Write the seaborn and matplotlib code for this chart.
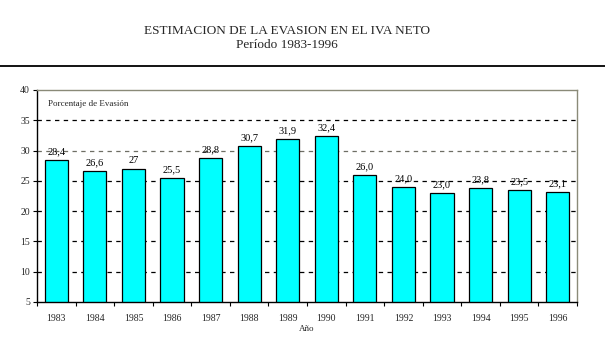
import matplotlib
matplotlib.use("Agg")
import matplotlib.pyplot as plt
from matplotlib.lines import Line2D
from matplotlib.ticker import FixedLocator, NullFormatter
import seaborn as sns
import pandas as pd

years = ["1983", "1984", "1985", "1986", "1987", "1988", "1989",
         "1990", "1991", "1992", "1993", "1994", "1995", "1996"]
evasion = [28.4, 26.6, 27.0, 25.5, 28.8, 30.7, 31.9,
           32.4, 26.0, 24.0, 23.0, 23.8, 23.5, 23.1]
value_labels = ["28,4", "26,6", "27", "25,5", "28,8", "30,7", "31,9",
                "32,4", "26,0", "24,0", "23,0", "23,8", "23,5", "23,1"]
y_ticks = [5, 10, 15, 20, 25, 30, 35, 40]

sns.set_theme(style="white")
plt.rcParams["font.family"] = ["Liberation Serif", "DejaVu Serif"]

df = pd.DataFrame({"Año": years, "Evasion": evasion})

fig = plt.figure(figsize=(6.05, 3.37), dpi=100)
ax = fig.add_axes([0.0612, 0.104, 0.8925, 0.629])

ax.set_ylim(5, 40)
for t in y_ticks[1:-1]:
    col = "#6e6e64" if t == 30 else "black"
    ax.axhline(t, color=col, lw=0.9, ls=(0, (3.5, 3.5)), zorder=0)

sns.barplot(data=df, x="Año", y="Evasion", color="#00FFFF", saturation=1,
            width=0.6, edgecolor="black", linewidth=0.9, ax=ax, zorder=2)

ax.set_xlim(-0.5, len(years) - 0.5)
for i, (v, lab) in enumerate(zip(evasion, value_labels)):
    ax.text(i, v + 0.6, lab, ha="center", va="bottom", fontsize=7.5, color="black")

ax.text(0.02, 0.935, "Porcentaje de Evasión", transform=ax.transAxes,
        fontsize=6.5, ha="left", va="center")

ax.set_yticks(y_ticks)
ax.set_yticklabels([str(t) for t in y_ticks], fontsize=7)
ax.tick_params(axis="y", direction="out", length=3, width=0.8, color="black", pad=2, left=True)
ax.tick_params(axis="x", which="major", length=0, labelsize=7, pad=9)
ax.xaxis.set_minor_locator(FixedLocator([i + 0.5 for i in range(-1, len(years))]))
ax.xaxis.set_minor_formatter(NullFormatter())
ax.tick_params(axis="x", which="minor", direction="out", length=3, width=0.8,
               color="black", bottom=True)

ax.set_xlabel("Año", fontsize=6.5, labelpad=1)
ax.set_ylabel("")

for side in ["left", "bottom"]:
    ax.spines[side].set_color("black")
    ax.spines[side].set_linewidth(1.0)
for side in ["top", "right"]:
    ax.spines[side].set_color("#8a8a78")
    ax.spines[side].set_linewidth(1.0)

fig.text(0.475, 0.908, "ESTIMACION DE LA EVASION EN EL IVA NETO",
         ha="center", va="center", fontsize=9.5)
fig.text(0.475, 0.866, "Período 1983-1996", ha="center", va="center", fontsize=9.5)
fig.add_artist(Line2D([0, 1], [1 - 66 / 337, 1 - 66 / 337],
                      transform=fig.transFigure, color="black", lw=1.3))

fig.savefig("out.png", dpi=100, facecolor="white")
